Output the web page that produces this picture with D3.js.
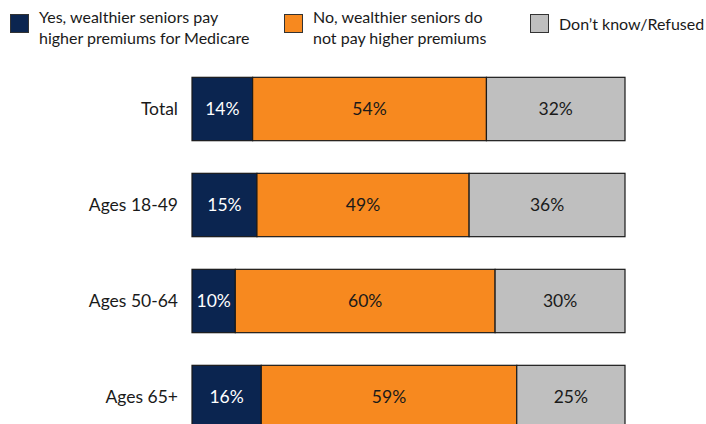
<!DOCTYPE html>
<html><head><meta charset="utf-8">
<script src="https://cdn.jsdelivr.net/npm/d3@7"></script>
<style>body{margin:0;background:#fff;}svg{display:block;font-family:Lato,"Liberation Sans",Arial,sans-serif;}</style>
</head><body>
<svg id="c" width="706" height="424"></svg>
<script>
const categories = ["Total", "Ages 18-49", "Ages 50-64", "Ages 65+"];
const yesValues = [14, 15, 10, 16];
const noValues = [54, 49, 60, 59];
const dkValues = [32, 36, 30, 25];
const seriesNames = [["Yes, wealthier seniors pay", "higher premiums for Medicare"], ["No, wealthier seniors do", "not pay higher premiums"], ["Don\u2019t know/Refused"]];
const colors = ["#0b2550", "#f7891f", "#bfbfbf"];
const labelColors = ["#ffffff", "#1a1a1a", "#1a1a1a"];
const FONT = "Lato,'Liberation Sans',Arial,sans-serif";
const FS = 16;
const FS_CHART = 17.5;

const svg = d3.select("#c");
const series = [yesValues, noValues, dkValues];
const rows = categories.map((c, i) => ({cat: c, vals: series.map(s => s[i])}));

const x = d3.scaleLinear().domain([0, 100]).range([192, 625]);
const y = d3.scaleBand().domain(categories).range([61, 445]).paddingInner(0.34).paddingOuter(0.17);

rows.forEach(r => {
  let acc = 0;
  r.vals.forEach((v, k) => {
    const x0 = x(acc), x1 = x(acc + v);
    svg.append("rect").attr("x", x0).attr("y", y(r.cat)).attr("width", x1 - x0).attr("height", y.bandwidth())
      .attr("fill", colors[k]).attr("stroke", "#1a1a1a").attr("stroke-width", 1.2);
    svg.append("text").attr("x", (x0 + x1) / 2).attr("y", y(r.cat) + y.bandwidth() / 2).attr("dy", "0.35em")
      .attr("text-anchor", "middle").attr("font-size", FS_CHART).attr("fill", labelColors[k]).text(v + "%");
    acc += v;
  });
});

const yAxis = d3.axisLeft(y).tickSize(0).tickPadding(14);
const ax = svg.append("g").attr("transform", `translate(${x(0)},0)`).call(yAxis);
ax.select(".domain").remove();
ax.selectAll("text").attr("font-size", FS_CHART).attr("fill", "#1a1a1a").attr("font-family", FONT);

const legendX = [10, 284, 530];
seriesNames.forEach((lines, k) => {
  const g = svg.append("g");
  g.append("rect").attr("x", legendX[k] + 0.5).attr("y", 14.5).attr("width", 18).attr("height", 18)
    .attr("fill", colors[k]).attr("stroke", "#333").attr("stroke-width", 1);
  const t = g.append("text").attr("font-size", FS).attr("fill", "#1a1a1a");
  if (lines.length === 2) {
    lines.forEach((l, j) => t.append("tspan").attr("x", legendX[k] + 29).attr("y", 17 + j * 21).attr("dy", "0.35em").text(l));
  } else {
    t.append("tspan").attr("x", legendX[k] + 29).attr("y", 24).attr("dy", "0.35em").text(lines[0]);
  }
});
</script>
</body></html>
